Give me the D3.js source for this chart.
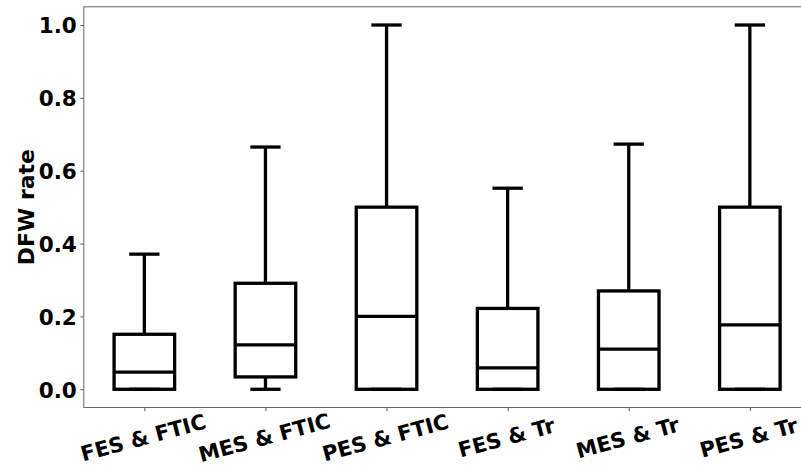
<!DOCTYPE html>
<html>
<head>
<meta charset="utf-8">
<script src="https://cdn.jsdelivr.net/npm/d3@7"></script>
<style>
  html, body { margin: 0; padding: 0; background: #fff; }
  svg { display: block; }
  text { font-family: "DejaVu Sans", sans-serif; font-weight: bold; fill: #000; }
</style>
</head>
<body>
<svg id="chart" width="801" height="468"></svg>
<script>
const categories = ["FES & FTIC", "MES & FTIC", "PES & FTIC", "FES & Tr", "MES & Tr", "PES & Tr"];
const whiskerLow  = [0.0,   0.0,   0.0, 0.0,   0.0,   0.0];
const q1          = [0.0,   0.034, 0.0, 0.0,   0.0,   0.0];
const median      = [0.047, 0.122, 0.2, 0.059, 0.110, 0.177];
const q3          = [0.151, 0.291, 0.5, 0.222, 0.270, 0.5];
const whiskerHigh = [0.371, 0.665, 1.0, 0.552, 0.673, 1.0];
const yTicks = [0.0, 0.2, 0.4, 0.6, 0.8, 1.0];

const svg = d3.select("#chart");
const mLeft = 83.8, mRight = 810.4, mTop = 6.8, mBottom = 407.5;

const x = d3.scaleLinear().domain([0.5, categories.length + 0.5]).range([mLeft, mRight]);
const y = d3.scaleLinear().domain([-0.05, 1.05]).range([mBottom, mTop]);

const boxW = (x(1.5) - x(1));        // 0.5 data units
const capW = boxW / 2;               // 0.25 data units

const data = categories.map((c, i) => ({
  c, pos: i + 1, lo: whiskerLow[i], q1: q1[i], med: median[i], q3: q3[i], hi: whiskerHigh[i]
}));

// Axes
const yAxis = svg.append("g").attr("transform", `translate(${mLeft},0)`)
  .call(d3.axisLeft(y).tickValues(yTicks).tickFormat(d3.format(".1f")).tickSize(3.5).tickPadding(3.5));
yAxis.selectAll("text").style("font-size", "21.5px").attr("dy", "0.36em");

const xAxis = svg.append("g").attr("transform", `translate(0,${mBottom})`)
  .call(d3.axisBottom(x).tickValues(data.map(d => d.pos)).tickFormat("").tickSize(3.5));

[yAxis, xAxis].forEach(g => {
  g.select(".domain").remove();
  g.selectAll(".tick line").attr("stroke", "#555").attr("stroke-width", 1);
});

// frame
svg.append("rect").attr("x", mLeft).attr("y", mTop)
  .attr("width", mRight - mLeft).attr("height", mBottom - mTop)
  .attr("fill", "none").attr("stroke", "#666").attr("stroke-width", 1);

// x labels
svg.append("g").selectAll("text").data(data).join("text")
  .attr("transform", d => `translate(${x(d.pos) - 1},438) rotate(-15)`)
  .attr("text-anchor", "middle").attr("dominant-baseline", "central")
  .style("font-size", "21px")
  .text(d => d.c);

// y label
svg.append("text")
  .attr("transform", `translate(26,${(mTop + mBottom) / 2}) rotate(-90)`)
  .attr("text-anchor", "middle").attr("dominant-baseline", "central")
  .style("font-size", "22px")
  .text("DFW rate");

// boxes
const lw = 3.3;
const g = svg.append("g").attr("stroke", "#000").attr("stroke-width", lw).attr("fill", "none");
const b = g.selectAll("g.box").data(data).join("g").attr("class", "box");

b.append("line").attr("x1", d => x(d.pos)).attr("x2", d => x(d.pos))
  .attr("y1", d => y(d.q3)).attr("y2", d => y(d.hi));
b.append("line").attr("x1", d => x(d.pos)).attr("x2", d => x(d.pos))
  .attr("y1", d => y(d.q1)).attr("y2", d => y(d.lo));
b.append("line").attr("x1", d => x(d.pos) - capW / 2).attr("x2", d => x(d.pos) + capW / 2)
  .attr("y1", d => y(d.hi)).attr("y2", d => y(d.hi));
b.append("line").attr("x1", d => x(d.pos) - capW / 2).attr("x2", d => x(d.pos) + capW / 2)
  .attr("y1", d => y(d.lo)).attr("y2", d => y(d.lo));
b.append("rect").attr("x", d => x(d.pos) - boxW / 2).attr("width", boxW)
  .attr("y", d => y(d.q3)).attr("height", d => y(d.q1) - y(d.q3));
b.append("line").attr("x1", d => x(d.pos) - boxW / 2).attr("x2", d => x(d.pos) + boxW / 2)
  .attr("y1", d => y(d.med)).attr("y2", d => y(d.med));
</script>
</body>
</html>
